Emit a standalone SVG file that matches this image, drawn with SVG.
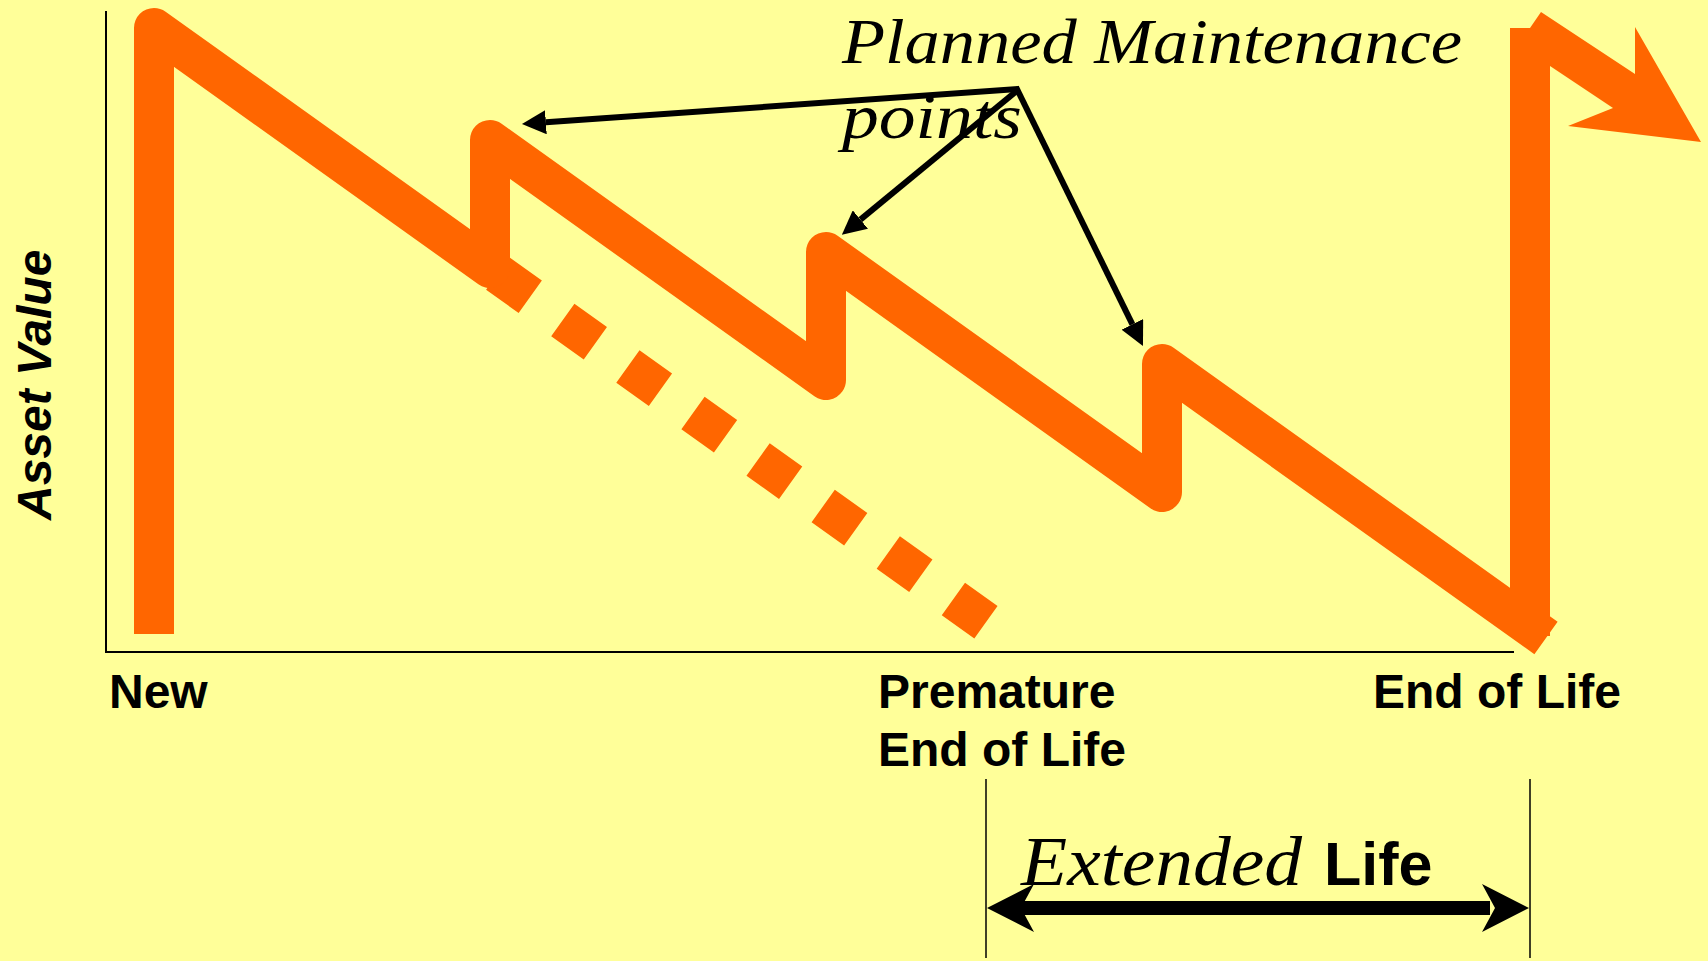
<svg xmlns="http://www.w3.org/2000/svg" width="1708" height="961" viewBox="0 0 1708 961">
  <style>
    .orange { fill: none; stroke: #FF6600; stroke-width: 40; }
    .axis { stroke: #000; stroke-width: 2; fill: none; }
    .conn { stroke: #000; stroke-width: 6; fill: none; stroke-linecap: butt; }
    .lbl { font-family: "Liberation Sans", Arial, sans-serif; font-weight: bold; font-size: 48px; fill: #000; }
    .big { font-size: 61px; }
    .ital { font-family: "Liberation Serif", "Times New Roman", serif; font-style: italic; fill: #000; }
  </style>
  <defs>
    <marker id="ah" viewBox="0 0 24 24" refX="0" refY="12" markerWidth="24" markerHeight="24" markerUnits="userSpaceOnUse" orient="auto">
      <path d="M0,0 L24,12 L0,24 Z" fill="#000"/>
    </marker>
  </defs>
  <rect x="0" y="0" width="1708" height="961" fill="#FFFF99"/>

  <g id="axes">
    <line class="axis" x1="106" y1="11" x2="106" y2="652"/>
    <line class="axis" x1="105" y1="652" x2="1514" y2="652"/>
  </g>

  <g id="dashed-decline">
    <path class="orange" d="M497.7,273.5 L986,622.3" stroke-dasharray="40 40"/>
  </g>

  <g id="asset-value-line">
    <path class="orange" stroke-linejoin="round" stroke-linecap="butt" d="M154,634 L154,28 L490,268 L490,140 L826,380 L826,252 L1162,492 L1162,364 L1546,638"/>
  </g>

  <g id="renewal-arrow">
    <polygon fill="#FF6600" points="1510,636 1510,28 1530,28 1541,12 1635,74 1635,27 1701,142 1568,126 1613,108 1550,66 1550,636"/>
  </g>

  <g id="connectors">
    <line class="conn" x1="1019" y1="89" x2="545.9" y2="122.3" marker-end="url(#ah)"/>
    <line class="conn" x1="1019" y1="89" x2="860.4" y2="219.6" marker-end="url(#ah)"/>
    <line class="conn" x1="1016" y1="87" x2="1132.4" y2="324.4" marker-end="url(#ah)"/>
  </g>

  <g id="planned-maintenance-label">
    <text class="ital" x="842" y="63" font-size="64" textLength="620" lengthAdjust="spacingAndGlyphs">Planned Maintenance</text>
    <text class="ital" x="842" y="138" font-size="64" textLength="180" lengthAdjust="spacingAndGlyphs">points</text>
  </g>

  <g id="y-label">
    <text class="lbl" font-style="italic" x="51" y="520" transform="rotate(-90 51 520)">Asset Value</text>
  </g>

  <g id="x-labels">
    <text class="lbl" x="109" y="708">New</text>
    <text class="lbl" x="878" y="708">Premature</text>
    <text class="lbl" x="878" y="766">End of Life</text>
    <text class="lbl" x="1373" y="708">End of Life</text>
  </g>

  <g id="extended-life">
    <line x1="986" y1="779" x2="986" y2="958" stroke="#000" stroke-width="1.5"/>
    <line x1="1530" y1="779" x2="1530" y2="958" stroke="#000" stroke-width="1.5"/>
    <rect x="1015" y="901" width="475" height="14" fill="#000"/>
    <polygon fill="#000" points="987,908 1034,884 1021,908 1034,932"/>
    <polygon fill="#000" points="1529,908 1482,884 1495,908 1482,932"/>
    <text x="1021" y="885"><tspan class="ital" font-size="70" textLength="281" lengthAdjust="spacingAndGlyphs">Extended</tspan><tspan class="lbl big" dx="22">Life</tspan></text>
  </g>
</svg>
